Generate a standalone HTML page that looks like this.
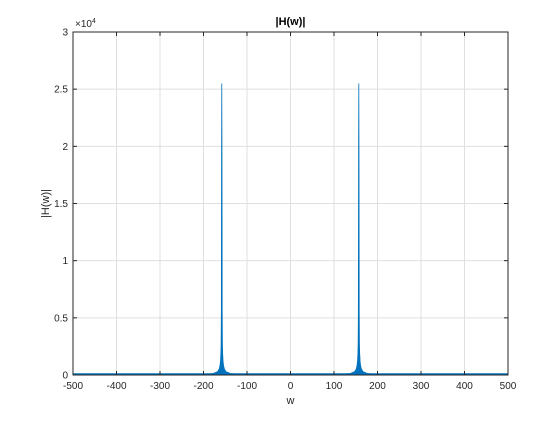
<!DOCTYPE html>
<html><head><meta charset="utf-8"><style>
body{margin:0;background:#fff;width:560px;height:420px;overflow:hidden;font-family:"Liberation Sans",Helvetica,Arial,sans-serif}
</style></head><body>
<svg id="chart" width="560" height="420" xmlns="http://www.w3.org/2000/svg">
<rect width="560" height="420" fill="#fff"/>
<g id="grid"></g>
<g id="series"></g>
<g id="axes"></g>
<text x="290.5" y="25" text-anchor="middle" font-size="11" font-weight="bold" fill="#000">|H(w)|</text>
<text x="290.5" y="404" text-anchor="middle" font-size="11" fill="#262626">w</text>
<text transform="translate(49,203.5) rotate(-90)" text-anchor="middle" font-size="11" fill="#262626">|H(w)|</text>
<text x="75" y="27" font-size="10" fill="#262626">×10<tspan font-size="7" dy="-4">4</tspan></text>
</svg>
<script>
const xTicks=[-500,-400,-300,-200,-100,0,100,200,300,400,500];
const yTicks=[0,0.5,1,1.5,2,2.5,3];
const yTickLabels=["0","0.5","1","1.5","2","2.5","3"];
const peakW=[-158,157];
const offsets=[-40,-20,-10,-6,-4,-3,-2,-1.5,-1,-0.5,0,0.5,1,1.5,2,3,4,6,10,20,40];
const mags=[60,130,280,520,850,1200,1900,2700,5500,19000,25500,19000,5500,2700,1900,1200,850,520,280,130,60];
const L=73,R=508,T=32,B=375;
const xs=v=>L+(v+500)/1000*(R-L);
const ys=v=>B-v/30000*(B-T);
const NS="http://www.w3.org/2000/svg";
function mk(p,tag,a){const e=document.createElementNS(NS,tag);for(const k in a)e.setAttribute(k,a[k]);p.appendChild(e);return e;}
const g=document.getElementById('grid'),ax=document.getElementById('axes'),s=document.getElementById('series');
xTicks.forEach(t=>{const x=xs(t);
 const l=mk(g,'line',{x1:x,x2:x,y1:T,y2:B,stroke:'#dfdfdf','stroke-width':1});
 
 mk(ax,'line',{x1:x,x2:x,y1:B,y2:B-4,stroke:'#262626'});mk(ax,'line',{x1:x,x2:x,y1:T,y2:T+4,stroke:'#262626'});
 const tx=mk(ax,'text',{x:x,y:B+14,'text-anchor':'middle','font-size':10,fill:'#262626'});tx.textContent=t;
 });
yTicks.forEach((t,i)=>{const y=ys(t*10000);
 const l=mk(g,'line',{x1:L,x2:R,y1:y,y2:y,stroke:'#dfdfdf','stroke-width':1});
 
 mk(ax,'line',{x1:L,x2:L+4,y1:y,y2:y,stroke:'#262626'});mk(ax,'line',{x1:R,x2:R-4,y1:y,y2:y,stroke:'#262626'});
 const tx=mk(ax,'text',{x:L-5,y:y+3.5,'text-anchor':'end','font-size':10,fill:'#262626'});tx.textContent=yTickLabels[i];
 });
const fr=mk(ax,'rect',{x:L,y:T,width:R-L,height:B-T,fill:'none',stroke:'#262626','stroke-width':1});

const bl=mk(s,'line',{x1:L,x2:R,y1:B-1,y2:B-1,stroke:'#0072bd','stroke-width':1.5});

peakW.forEach(w0=>{
 let d='';offsets.forEach((o,i)=>{d+=(i?'L':'M')+xs(w0+o).toFixed(2)+','+ys(mags[i]).toFixed(2);});
 d+='L'+xs(w0+offsets[offsets.length-1]).toFixed(2)+','+B+'L'+xs(w0+offsets[0]).toFixed(2)+','+B+'Z';
 const p=mk(s,'path',{d:d,fill:'#0072bd',stroke:'#0072bd','stroke-width':0.8,'stroke-linejoin':'miter'});
 
});
</script>
</body></html>
